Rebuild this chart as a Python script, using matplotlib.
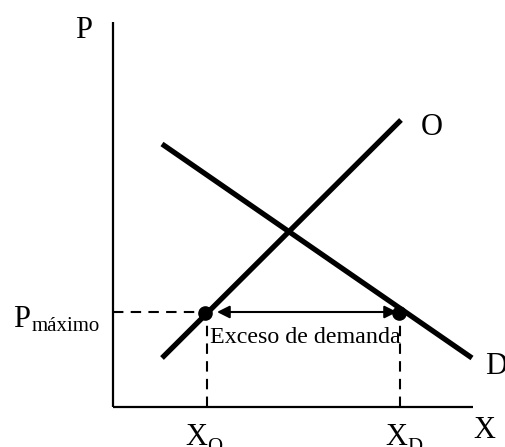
import matplotlib

matplotlib.use("Agg")
import matplotlib.pyplot as plt

# Schematic supply/demand with a price ceiling (units: arbitrary quantity / price)
SUPPLY_Q = [49, 288]
SUPPLY_P = [49, 287]
DEMAND_Q = [49, 359]
DEMAND_P = [263, 49]
P_MAX = 95
Q_OFFER = 94     # X_O
Q_DEMAND = 287   # X_D
AXIS_TOP = 385
AXIS_RIGHT = 360

FONT = "Liberation Serif"
BIG = 22
SUB = 15
MID = 17.3

fig = plt.figure(figsize=(5.06, 4.47), dpi=100)
ax = fig.add_axes([0, 0, 1, 1])
ax.set_xlim(-113, 393)
ax.set_ylim(-40, 407)
ax.axis("off")

# axes
ax.plot([0, 0], [0, AXIS_TOP], color="black", lw=1.6, solid_capstyle="butt")
ax.plot([0, AXIS_RIGHT], [0, 0], color="black", lw=1.6, solid_capstyle="butt")

# supply and demand
ax.plot(SUPPLY_Q, SUPPLY_P, color="black", lw=3.8, solid_capstyle="butt")
ax.plot(DEMAND_Q, DEMAND_P, color="black", lw=3.8, solid_capstyle="butt")

# dashed guides
dash = dict(color="black", lw=1.5, linestyle=(0, (5, 3.5)))
ax.plot([0, Q_OFFER], [P_MAX, P_MAX], **dash)
ax.plot([Q_OFFER, Q_OFFER], [0, P_MAX], **dash)
ax.plot([Q_DEMAND, Q_DEMAND], [0, P_MAX], **dash)

# excess demand arrow
ax.annotate(
    "",
    xy=(Q_DEMAND - 3, P_MAX),
    xytext=(Q_OFFER + 10, P_MAX),
    arrowprops=dict(
        arrowstyle="<|-|>,head_length=0.5,head_width=0.25",
        mutation_scale=15,
        color="black",
        lw=1.5,
        shrinkA=0,
        shrinkB=0,
    ),
)

# points
ax.plot([Q_OFFER - 2, Q_DEMAND - 1], [P_MAX - 1, P_MAX - 1], "o", color="black",
        markersize=9.5, zorder=5)

txt = dict(family=FONT, color="black", ha="left", va="baseline")
ax.text(-38, 369, "P", fontsize=BIG, **txt)
ax.text(308, 272, "O", fontsize=BIG, **txt)
ax.text(372, 33, "D", fontsize=BIG, **txt)
ax.text(360, -31, "X", fontsize=BIG, **txt)
ax.text(72, -38, "X", fontsize=BIG, **txt)
ax.text(94, -45, "O", fontsize=SUB, **txt)
ax.text(272, -38, "X", fontsize=BIG, **txt)
ax.text(294, -45, "D", fontsize=SUB, **txt)
ax.text(-100, 80, "P", fontsize=BIG, **txt)
ax.text(-81, 76, "máximo", fontsize=SUB, **txt)
ax.text(97, 64, "Exceso de demanda", fontsize=MID, **txt)

fig.savefig("out.png", dpi=100)
